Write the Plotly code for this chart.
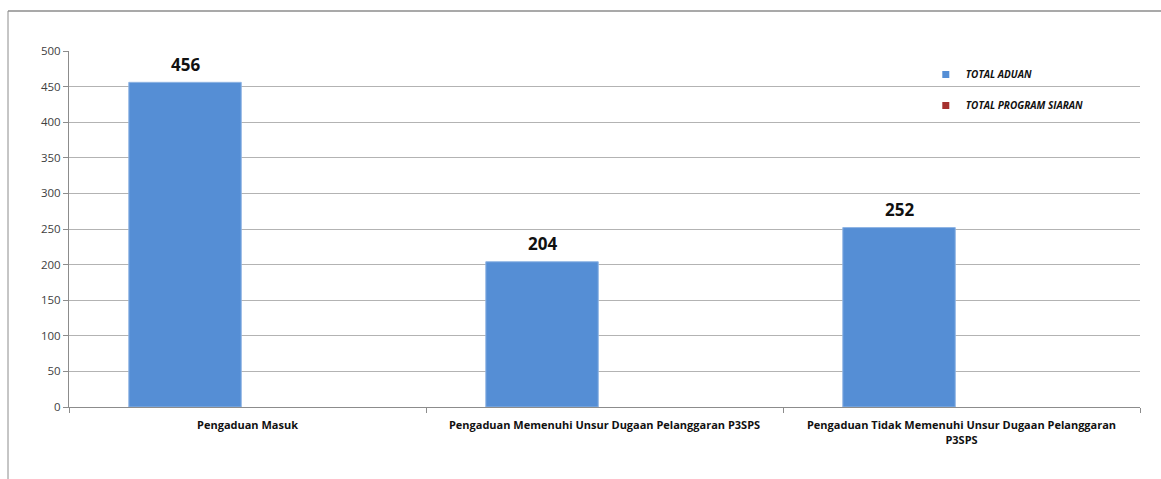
import plotly.graph_objects as go

categories = [
    "Pengaduan Masuk",
    "Pengaduan Memenuhi Unsur Dugaan Pelanggaran P3SPS",
    "Pengaduan Tidak Memenuhi Unsur Dugaan Pelanggaran<br>P3SPS",
]
total_aduan = [456, 204, 252]
total_program_siaran = [None, None, None]
y_ticks = [0, 50, 100, 150, 200, 250, 300, 350, 400, 450, 500]

blue = "#558ed5"
red = "#a5312e"
font = "Open Sans"

plot_w = 1161 - 69 - 21
bargap = 0.30
slot = plot_w / len(categories) * (1 - bargap) / 2

fig = go.Figure()

fig.add_trace(go.Bar(
    x=categories, y=total_aduan, name="TOTAL ADUAN",
    marker=dict(color=blue, line=dict(color="#8fb4e3", width=1)),
    showlegend=False,
))
fig.add_trace(go.Bar(
    x=categories, y=total_program_siaran, name="TOTAL PROGRAM SIARAN",
    marker=dict(color=red), showlegend=False,
))

# value labels above the blue bars
for cat, val in zip(categories, total_aduan):
    fig.add_annotation(
        x=cat, y=val, text=str(val), showarrow=False,
        xshift=-slot / 2, yshift=18,
        font=dict(family=font, size=17, color="#111111", weight="bold"),
    )

# legend entries with small square markers
for name, col, grp in [("TOTAL ADUAN", blue, "a"), ("TOTAL PROGRAM SIARAN", red, "b")]:
    fig.add_trace(go.Scatter(
        x=[None], y=[None], mode="markers", name=name, legendgroup=grp,
        marker=dict(symbol="square", size=7, color=col),
    ))

fig.update_layout(
    width=1161, height=479,
    margin=dict(l=69, r=21, t=51, b=72),
    paper_bgcolor="white", plot_bgcolor="white",
    barmode="group", bargap=bargap, bargroupgap=0.1,
    font=dict(family=font, size=11, color="#404040"),
    legend=dict(
        x=0.80, y=0.975, xanchor="left", yanchor="top",
        bgcolor="rgba(0,0,0,0)", traceorder="grouped", tracegroupgap=12,
        itemwidth=30,
        font=dict(family=font, size=10, color="#111111", style="italic", weight="bold"),
    ),
    xaxis=dict(
        showline=True, linecolor="#8c8c8c", linewidth=1,
        ticks="outside", tickson="boundaries", ticklen=5, tickcolor="#8c8c8c",
        ticklabelstandoff=8,
        tickfont=dict(family=font, size=11, color="#111111", weight="bold"),
        showgrid=False,
    ),
    yaxis=dict(
        range=[0, 500], tickvals=y_ticks,
        showline=True, linecolor="#8c8c8c", linewidth=1,
        ticks="outside", ticklen=5, tickcolor="#8c8c8c",
        showgrid=True, gridcolor="#b3b3b3", gridwidth=1,
        zeroline=False,
        tickfont=dict(family=font, size=11.5, color="#404040"),
    ),
    shapes=[
        dict(type="line", xref="paper", yref="paper",
             x0=(8 - 69) / plot_w, x1=1.05, y0=1 + (51 - 11) / 356, y1=1 + (51 - 11) / 356,
             line=dict(color="#8c8c8c", width=1.5)),
        dict(type="line", xref="paper", yref="paper",
             x0=(8 - 69) / plot_w, x1=(8 - 69) / plot_w, y0=1 + (51 - 11) / 356, y1=-0.3,
             line=dict(color="#8c8c8c", width=1)),
    ],
)

fig.write_html("out.html", config={"displayModeBar": False},
               post_script="document.body.style.margin='0';")
